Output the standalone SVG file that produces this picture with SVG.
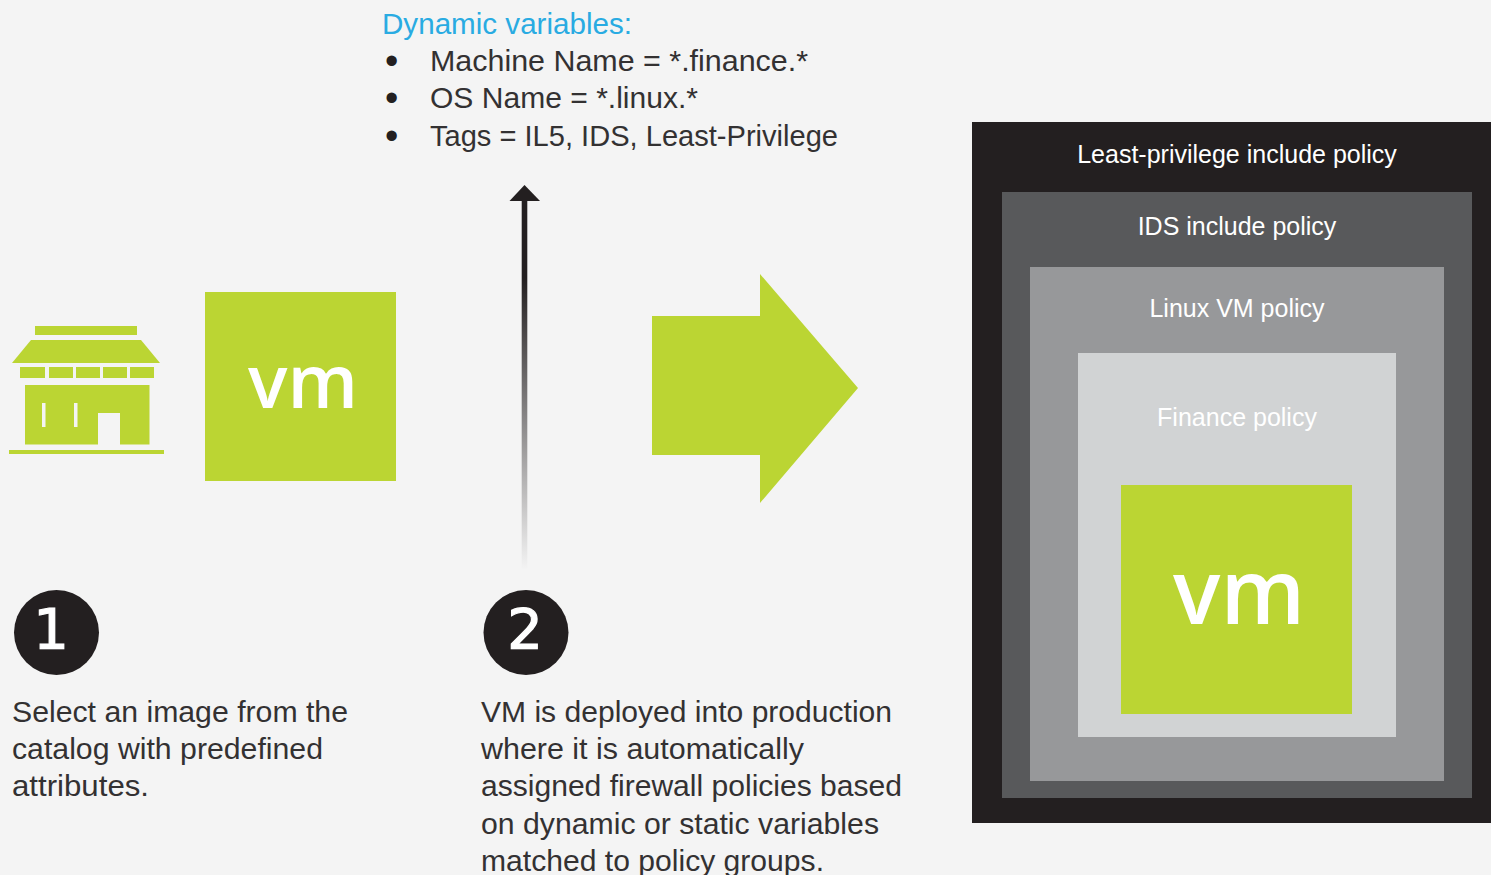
<svg xmlns="http://www.w3.org/2000/svg" width="1491" height="875" viewBox="0 0 1491 875">
<style>
text{font-family:"Liberation Sans",Arial,sans-serif}
.body{font-size:30px;fill:#333132}
.bul{font-size:38px;fill:#231f20}
.dark{fill:#231f20}
.green{fill:#bbd533}
.pol{font-size:25px;fill:#fff;text-anchor:middle}
.vm{fill:#fff;font-family:"Open Sans","Liberation Sans",sans-serif;font-weight:600}
.num{font-size:56px;fill:#fff;text-anchor:middle;font-family:"DejaVu Sans",sans-serif;stroke:#fff;stroke-width:1.2}
</style>
<defs>
<linearGradient id="fade" gradientUnits="userSpaceOnUse" x1="0" y1="200" x2="0" y2="570">
<stop offset="0" stop-color="#231f20"/><stop offset="0.21" stop-color="#231f20"/><stop offset="1" stop-color="#231f20" stop-opacity="0"/>
</linearGradient>
</defs>
<rect width="1491" height="875" fill="#f4f4f4"/>
<g id="catalog-icon" class="green">
<rect x="35" y="326" width="102" height="9"/>
<polygon points="31,340 141,340 160,363 12,363"/>
<rect x="20" y="367" width="25" height="11"/><rect x="49" y="367" width="24" height="11"/><rect x="76" y="367" width="24" height="11"/><rect x="103" y="367" width="24" height="11"/><rect x="130" y="367" width="24" height="11"/>
<path fill-rule="evenodd" d="M25 385H149.500V444.500H120V413H98V444.500H25ZM42 403V427H45.500V403ZM74 403V427H77.500V403Z"/>
<rect x="9" y="450" width="155" height="4"/>
</g>
<g id="vm-small">
<rect class="green" x="205" y="292" width="191" height="189"/>
<text class="vm" x="248" y="407.500" font-size="75" textLength="110" lengthAdjust="spacingAndGlyphs">vm</text>
</g>
<g id="variables">
<text x="382" y="34" font-size="30" fill="#29abe2" textLength="250" lengthAdjust="spacingAndGlyphs">Dynamic variables:</text>
<g class="body">
<text class="bul" x="385" y="74">•</text><text x="430" y="71" textLength="378" lengthAdjust="spacingAndGlyphs">Machine Name = *.finance.*</text>
<text class="bul" x="385" y="111">•</text><text x="430" y="108" textLength="268" lengthAdjust="spacingAndGlyphs">OS Name = *.linux.*</text>
<text class="bul" x="385" y="149">•</text><text x="430" y="146" textLength="408" lengthAdjust="spacingAndGlyphs">Tags = IL5, IDS, Least-Privilege</text>
</g>
</g>
<g id="connectors">
<rect x="521.700" y="200" width="5.600" height="370" fill="url(#fade)"/>
<polygon class="dark" points="524.500,185 540,201 509.500,201"/>
<polygon id="big-arrow" class="green" points="652,316 760,316 760,274 858,388 760,503 760,455 652,455"/>
</g>
<g id="step-1">
<circle class="dark" cx="56.500" cy="632.500" r="42.500"/>
<text class="num" x="51" y="648">1</text>
<g class="body"><text x="12" y="722" textLength="336" lengthAdjust="spacingAndGlyphs">Select an image from the</text><text x="12" y="759" textLength="311" lengthAdjust="spacingAndGlyphs">catalog with predefined</text><text x="12" y="796" textLength="137" lengthAdjust="spacingAndGlyphs">attributes.</text></g>
</g>
<g id="step-2">
<circle class="dark" cx="526" cy="632.500" r="42.500"/>
<text class="num" x="525" y="648">2</text>
<g class="body"><text x="481" y="722" textLength="411" lengthAdjust="spacingAndGlyphs">VM is deployed into production</text><text x="481" y="759" textLength="323" lengthAdjust="spacingAndGlyphs">where it is automatically</text><text x="481" y="796" textLength="421" lengthAdjust="spacingAndGlyphs">assigned firewall policies based</text><text x="481" y="834" textLength="398" lengthAdjust="spacingAndGlyphs">on dynamic or static variables</text><text x="481" y="871" textLength="343" lengthAdjust="spacingAndGlyphs">matched to policy groups.</text></g>
</g>
<g id="policy-least-privilege"><rect class="dark" x="972" y="122" width="519" height="701"/><text class="pol" x="1237" y="163">Least-privilege include policy</text></g>
<g id="policy-ids"><rect x="1002" y="192" width="470" height="606" fill="#58595b"/><text class="pol" x="1237" y="235">IDS include policy</text></g>
<g id="policy-linux"><rect x="1030" y="267" width="414" height="514" fill="#97989a"/><text class="pol" x="1237" y="317">Linux VM policy</text></g>
<g id="policy-finance"><rect x="1078" y="353" width="318" height="384" fill="#d1d3d4"/><text class="pol" x="1237" y="426">Finance policy</text></g>
<g id="vm-large">
<rect class="green" x="1121" y="485" width="231" height="229"/>
<text class="vm" x="1173" y="624" font-size="90" textLength="132" lengthAdjust="spacingAndGlyphs">vm</text>
</g>
</svg>
